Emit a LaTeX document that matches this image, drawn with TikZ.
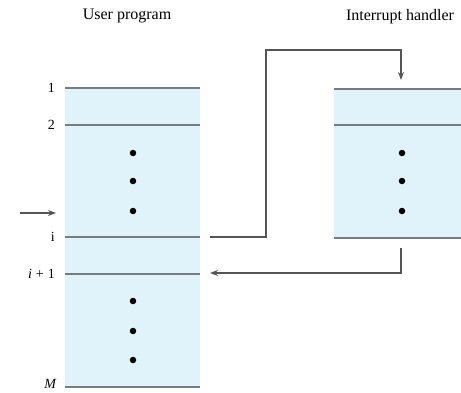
\documentclass[tikz,border=0pt]{standalone}
\usepackage{fontspec}
\setmainfont{Liberation Serif}
\usetikzlibrary{arrows.meta}
\definecolor{memfill}{HTML}{E1F3FA}
\definecolor{memline}{HTML}{767C7F}
\definecolor{flow}{HTML}{555555}
\tikzset{
  memrow/.style={draw=memline, line width=2pt},
  flowline/.style={draw=flow, line width=1.4pt, -{Stealth[length=8pt,width=6pt]}},
  rowlabel/.style={anchor=east, inner sep=0pt, font=\fontsize{14}{16}\selectfont},
  title/.style={inner sep=0pt, font=\fontsize{16}{19}\selectfont},
  dot/.style={circle, fill=black, inner sep=0pt, minimum size=6.5pt}
}
\begin{document}
\begin{tikzpicture}[x=1pt, y=-1pt]
\useasboundingbox (0,0) rectangle (461,392);

% memory blocks
\fill[memfill] (65,88) rectangle (200,387);
\fill[memfill] (334,89) rectangle (461,238);

% titles
\node[title] (tuser) at (127,16) {User program};
\node[title] (thand) at (400,17) {Interrupt handler};

% user program rows
\coordinate (aW) at (65,88);   \coordinate (aE) at (200,88);
\coordinate (bW) at (65,125);  \coordinate (bE) at (200,125);
\coordinate (iW) at (65,237);  \coordinate (iE) at (200,237);
\coordinate (jW) at (65,274);  \coordinate (jE) at (200,274);
\coordinate (mW) at (65,387);  \coordinate (mE) at (200,387);
\draw[memrow] (aW) -- (aE);
\draw[memrow] (bW) -- (bE);
\draw[memrow] (iW) -- (iE);
\draw[memrow] (jW) -- (jE);
\draw[memrow] (mW) -- (mE);

% interrupt handler rows
\coordinate (hAW) at (334,89);  \coordinate (hAE) at (461,89);
\coordinate (hBW) at (334,125); \coordinate (hBE) at (461,125);
\coordinate (hCW) at (334,238); \coordinate (hCE) at (461,238);
\draw[memrow] (hAW) -- (hAE);
\draw[memrow] (hBW) -- (hBE);
\draw[memrow] (hCW) -- (hCE);

% row labels
\node[rowlabel] (l1) at (55,88) {1};
\node[rowlabel] (l2) at (55,125) {2};
\node[rowlabel] (li) at (55,237) {i};
\node[rowlabel] (lj) at (55,274) {\textit{i}\hspace{4pt}+\hspace{4pt}1};
\node[rowlabel] (lm) at (57,384) {\textit{M}};

% ellipsis dots
\node[dot] (u1) at (133,153) {};
\node[dot] (u2) at (133,181) {};
\node[dot] (u3) at (133,211) {};
\node[dot] (u4) at (133,301) {};
\node[dot] (u5) at (133,331) {};
\node[dot] (u6) at (133,360) {};
\node[dot] (h1) at (402,153) {};
\node[dot] (h2) at (402,181) {};
\node[dot] (h3) at (402,211) {};

% interrupt occurs here
\coordinate (pIn) at (20,213);
\coordinate (pTip) at (56,213);
\draw[flowline] (pIn) -- (pTip);

% transfer to the handler and back
\coordinate (outS) at (210,237);
\coordinate (jog) at (266,50);
\coordinate (hTop) at (401,80);
\draw[flowline] (outS) -| (jog) -| (hTop);

\coordinate (retS) at (401,248);
\coordinate (retE) at (210,273);
\draw[flowline] (retS) |- (retE);
\end{tikzpicture}
\end{document}
